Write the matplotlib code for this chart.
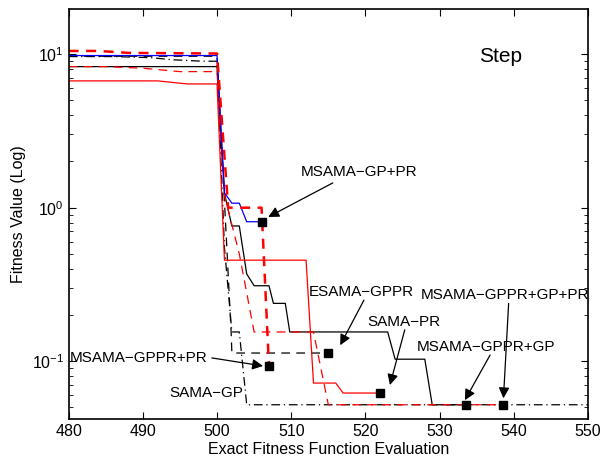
import numpy as np
import matplotlib.pyplot as plt

plt.rcParams['font.family'] = ['Liberation Sans', 'DejaVu Sans']
plt.rcParams['mathtext.fontset'] = 'custom'
plt.rcParams['mathtext.rm'] = 'Liberation Sans'

#Evaluation number vs best fitness, one pair of lists per algorithm
x_gp_pr = [480, 500, 501, 502, 503, 504, 506]
y_gp_pr = [9.8, 9.8, 1.25, 1.07, 1.07, 0.81, 0.81]

x_gppr_pr = [480, 484, 488, 500, 501.5, 506, 507]
y_gppr_pr = [10.5, 10.5, 10.2, 10.1, 1.0, 1.0, 0.093]

x_esama = [480, 500, 501.9, 502, 515]
y_esama = [9.7, 9.7, 0.155, 0.113, 0.113]

x_sama_pr = [480, 492, 496, 500, 501, 512, 513, 516, 517, 522]
y_sama_pr = [6.7, 6.7, 6.4, 6.4, 0.455, 0.455, 0.072, 0.072, 0.062, 0.062]

x_sama_gp = [480, 486, 491, 494, 498, 500, 501, 502, 503, 504, 550]
y_sama_gp = [9.65, 9.65, 9.5, 9.2, 9.0, 9.0, 0.55, 0.155, 0.155, 0.052, 0.052]

x_gppr_gp = [480, 500, 501, 502, 503, 504, 505, 507, 507.6, 509.2, 509.8, 523, 524, 528, 529, 533.5]
y_gppr_gp = [8.3, 8.3, 1.24, 0.76, 0.76, 0.37, 0.31, 0.31, 0.238, 0.238, 0.155, 0.155, 0.103, 0.103, 0.052, 0.052]

x_gppr_gp_pr = [480, 485, 490, 495, 500, 501, 503, 505, 513, 515, 538.5]
y_gppr_gp_pr = [8.3, 8.3, 8.1, 7.7, 7.7, 1.2, 0.5, 0.155, 0.155, 0.052, 0.052]

#Marked points, label anchors and arrows
labels = ['MSAMA−GP+PR', 'ESAMA−GPPR', 'SAMA−PR', 'MSAMA−GPPR+PR',
          'MSAMA−GPPR+GP', 'MSAMA−GPPR+GP+PR']
mark_x = [506, 515, 522, 507, 533.5, 538.5]
mark_y = [0.81, 0.113, 0.062, 0.093, 0.052, 0.052]
text_x = [511.3, 512.3, 520.3, 480.1, 526.9, 527.4]
text_y = [1.71, 0.282, 0.18, 0.105, 0.124, 0.27]
arr_x0 = [515.6, 519.8, 525.3, 499.3, 536.8, 539.3]
arr_y0 = [1.45, 0.25, 0.16, 0.105, 0.1096, 0.238]
arr_x1 = [506.9, 516.6, 523.3, 506.2, 533.4, 538.6]
arr_y1 = [0.87, 0.127, 0.0699, 0.093, 0.0557, 0.0573]

fig = plt.figure(figsize=(6.02, 4.62), dpi=100)
ax = fig.add_axes([0.114, 0.0924, 0.8628, 0.8874])

ax.plot(x_sama_gp, y_sama_gp, color='k', lw=0.9, linestyle=(0, (7, 3, 1, 3)))
ax.plot(x_esama, y_esama, color='k', lw=0.9, linestyle=(0, (7, 5)))
ax.plot(x_gppr_gp, y_gppr_gp, color='k', lw=0.9)
ax.plot(x_sama_pr, y_sama_pr, color='r', lw=0.9)
ax.plot(x_gppr_gp_pr, y_gppr_gp_pr, color='r', lw=0.9, linestyle=(0, (7, 5)))
ax.plot(x_gp_pr, y_gp_pr, color='b', lw=0.9)
ax.plot(x_gppr_pr, y_gppr_pr, color='r', lw=1.8, linestyle=(0, (4, 3)))

ax.plot(mark_x, mark_y, 's', color='k', markersize=6, linestyle='none')

for i in range(len(labels)):
    ax.annotate('', xy=(arr_x1[i], arr_y1[i]), xytext=(arr_x0[i], arr_y0[i]),
                arrowprops=dict(arrowstyle='-|>', color='k', lw=0.9,
                                mutation_scale=16, shrinkA=0, shrinkB=0))
    ax.text(text_x[i], text_y[i], labels[i], fontsize=11, ha='left', va='center')

ax.text(503.5, 0.062, 'SAMA−GP', fontsize=11, ha='right', va='center')
ax.text(538.2, 9.7, 'Step', fontsize=15, ha='center', va='center')

ax.set_yscale('log')
ax.set_xlim(480, 550)
ax.set_ylim(0.0418, 19.6)
ax.set_xticks(np.arange(480, 551, 10))
ax.tick_params(which='both', direction='in', top=True, right=True, labelsize=11.5)
ax.tick_params(which='major', length=5)
ax.tick_params(which='minor', length=3)
ax.set_xlabel('Exact Fitness Function Evaluation', fontsize=11.5, labelpad=2)
ax.set_ylabel('Fitness Value (Log)', fontsize=11.5)
for s in ax.spines.values():
    s.set_linewidth(1.2)

plt.savefig('out.png', dpi=100)
